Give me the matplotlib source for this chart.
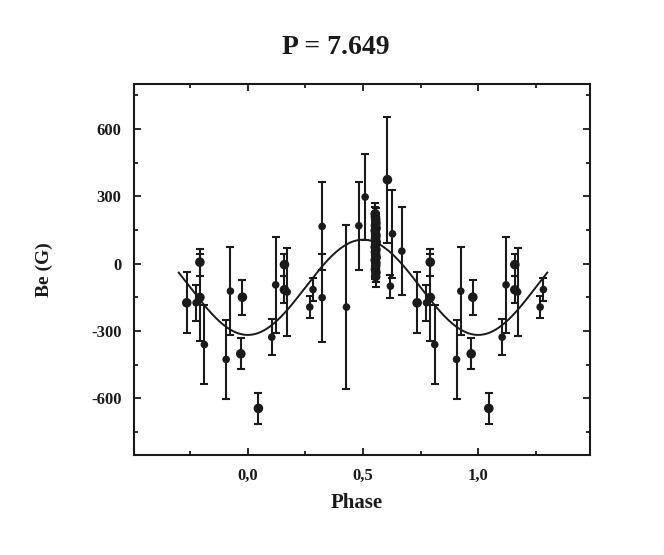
import numpy as np
import matplotlib
matplotlib.use('Agg')
import matplotlib.pyplot as plt
from matplotlib.ticker import FixedLocator, MultipleLocator

plt.rcParams['font.family'] = ['Liberation Serif', 'DejaVu Serif']
plt.rcParams['font.weight'] = 'bold'

# phase-folded measurements (phase in 0..1), Be in G, 1-sigma errors
phase = [0.735, 0.7755, 0.792, 0.792, 0.8115, 0.906, 0.9245, 0.9766, 0.9696,
         0.046, 0.104, 0.121, 0.159, 0.159, 0.171, 0.269, 0.283,
         0.3226, 0.3226, 0.4282, 0.482, 0.5093, 0.606, 0.628, 0.619, 0.6687,
         0.553, 0.554, 0.555, 0.556, 0.554, 0.557, 0.553, 0.555, 0.556, 0.554,
         0.557, 0.555, 0.553, 0.556, 0.554, 0.555, 0.557, 0.553, 0.556, 0.555,
         0.554, 0.556, 0.555]
be = [-174, -174, 7, -150, -360, -426, -122, -149, -401,
      -644, -327, -94, -4, -116, -126, -193, -115,
      166, -151, -193, 169, 297, 374, 133, -100, 56,
      222, 208, 196, 181, 170, 158, 147, 131, 122, 110,
      97, 88, 74, 63, 51, 40, 27, 16, 3, -10,
      -24, -39, -57]
err = [135, 80, 60, 195, 175, 175, 196, 78, 69,
       69, 80, 213, 49, 60, 196, 50, 51,
       196, 196, 364, 196, 192, 280, 196, 52, 197,
       48, 45, 50, 44, 47, 45, 50, 46, 44, 48,
       45, 47, 44, 50, 46, 45, 48, 44, 47, 45,
       46, 44, 48]
big = [1, 0, 1, 1, 0, 0, 0, 1, 1,
       1, 0, 0, 1, 1, 0, 0, 0,
       0, 0, 0, 0, 0, 1, 0, 0, 0,
       1, 1, 1, 1, 1, 1, 1, 1, 1, 1,
       1, 1, 1, 1, 1, 1, 1, 1, 1, 1,
       1, 1, 1]

# sinusoidal fit: Be = B0 + B1*cos(2*pi*(phase - phi_max))
B0 = -105
B1 = 212
phi_max = 0.5
phase_range = (-0.3, 1.3)

# repeat the folded data one cycle to each side inside the plotted range
x, y, e, s = [], [], [], []
for p, b, er, bg in zip(phase, be, err, big):
    for shift in (-1, 0, 1):
        q = p + shift
        if phase_range[0] <= q <= phase_range[1]:
            x.append(q)
            y.append(b)
            e.append(er)
            s.append(48 if bg else 30)

fig = plt.figure(figsize=(6.64, 5.55), dpi=100)
ax = fig.add_axes([0.2018, 0.18, 0.687, 0.6686])

ax.errorbar(x, y, yerr=e, fmt='none', ecolor='#1a1a1a', elinewidth=1.5,
            capsize=3, capthick=1.5, zorder=2)
ax.scatter(x, y, s=s, color='#1a1a1a', zorder=3, linewidths=0)

xf = np.linspace(phase_range[0], phase_range[1], 300)
ax.plot(xf, B0 + B1 * np.cos(2 * np.pi * (xf - phi_max)), color='#1a1a1a', lw=1.4, zorder=4)

ax.set_xlim(-0.494, 1.486)
ax.set_ylim(-852, 800)

ax.xaxis.set_major_locator(FixedLocator([0.0, 0.5, 1.0]))
ax.set_xticklabels(['0,0', '0,5', '1,0'])
ax.xaxis.set_minor_locator(FixedLocator([-0.25, 0.25, 0.75, 1.25]))
ax.yaxis.set_major_locator(FixedLocator([-600, -300, 0, 300, 600]))
ax.set_yticklabels(['-600', '-300', '0', '300', '600'])
ax.yaxis.set_minor_locator(MultipleLocator(150))

ax.tick_params(which='both', direction='in', top=True, right=True,
               width=1.3, colors='#1a1a1a', labelsize=12)
ax.tick_params(which='major', length=5)
ax.tick_params(which='minor', length=3)
ax.tick_params(axis='x', pad=9)
ax.tick_params(axis='y', pad=9)
for sp in ax.spines.values():
    sp.set_linewidth(1.5)
    sp.set_color('#1a1a1a')

ax.set_xlabel('Phase', fontsize=15, fontweight='bold', color='#1a1a1a', va='center')
ax.xaxis.set_label_coords(0.489, -0.129)
ax.set_ylabel('Be (G)', fontsize=14, fontweight='bold', color='#1a1a1a', va='center')
ax.yaxis.set_label_coords(-0.197, 0.5)
fig.text(0.505, 0.915, 'P = 7.649', ha='center', va='center', fontsize=20,
         fontweight='bold', color='#1a1a1a')

fig.savefig('out.png', dpi=100)
